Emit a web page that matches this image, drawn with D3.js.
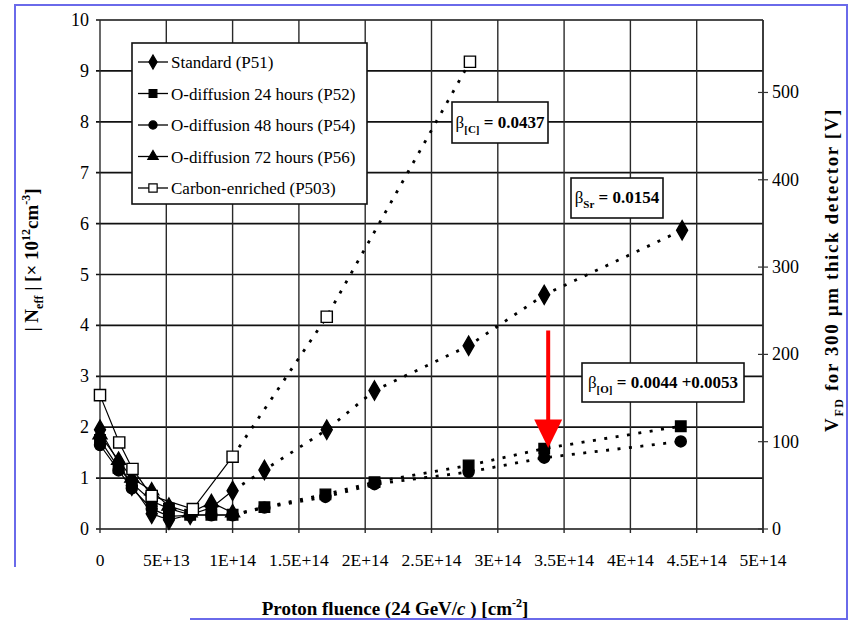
<!DOCTYPE html>
<html>
<head>
<meta charset="utf-8">
<script src="https://cdn.jsdelivr.net/npm/d3@7"></script>
<style>
  body { margin: 0; background: #fff; }
  svg { display: block; font-family: "Liberation Serif", "Times New Roman", serif; }
</style>
</head>
<body>
<svg id="chart"></svg>
<script>
// axis ticks
const xTicks = [0, 5e13, 1e14, 1.5e14, 2e14, 2.5e14, 3e14, 3.5e14, 4e14, 4.5e14, 5e14];
const xTickLabels = ["0", "5E+13", "1E+14", "1.5E+14", "2E+14", "2.5E+14", "3E+14", "3.5E+14", "4E+14", "4.5E+14", "5E+14"];
const yTicks = [0, 1, 2, 3, 4, 5, 6, 7, 8, 9, 10];
const vTicks = [0, 100, 200, 300, 400, 500];
const voltsPerUnit = 58.3; // V_FD for 300 um per 1e12 cm^-3

// series (fluence in cm^-2, |Neff| in 1e12 cm^-3)
const seriesLabels = ["Standard (P51)", "O-diffusion 24 hours (P52)", "O-diffusion 48 hours (P54)",
                      "O-diffusion 72 hours (P56)", "Carbon-enriched (P503)"];
const p51Fluence = [0, 1.4e13, 2.4e13, 3.9e13, 5.2e13, 6.8e13, 8.4e13, 1.0e14, 1.24e14, 1.71e14, 2.07e14, 2.78e14, 3.35e14, 4.39e14];
const p51Neff    = [1.95, 1.3, 0.85, 0.3, 0.18, 0.28, 0.42, 0.75, 1.16, 1.95, 2.72, 3.6, 4.6, 5.87];
const p52Fluence = [0, 1.4e13, 2.4e13, 3.9e13, 5.2e13, 6.8e13, 8.4e13, 1.0e14, 1.24e14, 1.7e14, 2.07e14, 2.78e14, 3.35e14, 4.38e14];
const p52Neff    = [1.75, 1.2, 0.9, 0.55, 0.4, 0.28, 0.28, 0.28, 0.43, 0.68, 0.92, 1.25, 1.58, 2.02];
const p54Fluence = [0, 1.4e13, 2.4e13, 3.9e13, 5.2e13, 6.8e13, 8.4e13, 1.0e14, 1.24e14, 1.7e14, 2.07e14, 2.78e14, 3.35e14, 4.38e14];
const p54Neff    = [1.65, 1.15, 0.8, 0.4, 0.25, 0.27, 0.27, 0.27, 0.42, 0.63, 0.88, 1.12, 1.4, 1.72];
const p56Fluence = [0, 1.4e13, 2.4e13, 3.9e13, 5.2e13, 6.8e13, 8.4e13, 1.0e14];
const p56Neff    = [1.85, 1.35, 1.0, 0.75, 0.45, 0.32, 0.52, 0.32];
const p503Fluence = [0, 1.45e13, 2.45e13, 3.9e13, 7.0e13, 1.0e14, 1.71e14, 2.79e14];
const p503Neff    = [2.63, 1.7, 1.18, 0.65, 0.39, 1.42, 4.17, 9.18];

const fitStart = 1e14; // points from here on are joined by dotted fit lines

const annotations = [
  { sym: "β", sub: "[C]", text: " = 0.0437" },
  { sym: "β", sub: "Sr", text: " = 0.0154" },
  { sym: "β", sub: "[O]", text: " = 0.0044 +0.0053" }
];

const W = 855, H = 621;
const svg = d3.select("#chart").attr("width", W).attr("height", H);

const x = d3.scaleLinear().domain([0, 5e14]).range([100, 763]);
const y = d3.scaleLinear().domain([0, 10]).range([529, 20]);
const yV = d3.scaleLinear().domain([0, 10 * voltsPerUnit]).range([529, 20]);

// grid
const grid = svg.append("g");
grid.selectAll("line.h").data(yTicks).join("line")
    .attr("x1", x(0) - 4).attr("x2", x(5e14))
    .attr("y1", d => y(d)).attr("y2", d => y(d))
    .attr("stroke", "#111").attr("stroke-width", 1.7);
grid.selectAll("line.v").data(xTicks).join("line")
    .attr("x1", d => x(d)).attr("x2", d => x(d))
    .attr("y1", y(10)).attr("y2", y(0) + 4)
    .attr("stroke", "#2a2a2a").attr("stroke-width", 1.4);

// left tick labels
svg.append("g").selectAll("text").data(yTicks).join("text")
    .attr("x", 89).attr("y", d => y(d) + 6)
    .attr("text-anchor", "end").attr("font-size", 18)
    .text(d => d);

// bottom tick labels
svg.append("g").selectAll("text").data(xTicks).join("text")
    .attr("x", d => x(d)).attr("y", 566)
    .attr("text-anchor", "middle").attr("font-size", 17.5)
    .text((d, i) => xTickLabels[i]);

// right axis
const rAxis = svg.append("g").attr("transform", `translate(${x(5e14)},0)`);
rAxis.append("line").attr("y1", y(10)).attr("y2", y(0) + 4)
    .attr("stroke", "#2a2a2a").attr("stroke-width", 1.4);
rAxis.selectAll("line.t").data(vTicks).join("line")
    .attr("x1", -5).attr("x2", 5)
    .attr("y1", d => yV(d)).attr("y2", d => yV(d))
    .attr("stroke", "#333").attr("stroke-width", 1.2);
rAxis.selectAll("text").data(vTicks).join("text")
    .attr("x", 9).attr("y", d => yV(d) + 6)
    .attr("font-size", 18).text(d => d);

// series
const series = [
  { fx: p51Fluence, fy: p51Neff, shape: d3.symbolDiamond, size: 105, fill: "#000" },
  { fx: p52Fluence, fy: p52Neff, shape: d3.symbolSquare, size: 110, fill: "#000" },
  { fx: p54Fluence, fy: p54Neff, shape: d3.symbolCircle, size: 95, fill: "#000" },
  { fx: p56Fluence, fy: p56Neff, shape: d3.symbolTriangle, size: 85, fill: "#000" },
  { fx: p503Fluence, fy: p503Neff, shape: d3.symbolSquare, size: 125, fill: "#fff" }
];

const line = d3.line().x(d => x(d[0])).y(d => y(d[1]));
const lines = svg.append("g").attr("fill", "none").attr("stroke", "#000");
series.forEach(s => {
  const pts = s.fx.map((f, i) => [f, s.fy[i]]);
  const early = pts.filter(p => p[0] <= fitStart);
  const late = pts.filter(p => p[0] >= fitStart);
  lines.append("path").datum(early).attr("d", line).attr("stroke-width", 1.2);
  if (late.length > 1) {
    lines.append("path").datum(late).attr("d", line)
        .attr("stroke-width", 2.8).attr("stroke-dasharray", "3,8.5");
  }
});

const marks = svg.append("g");
series.forEach(s => {
  marks.selectAll(null).data(s.fx).join("path")
      .attr("transform", (f, i) => `translate(${x(f)},${y(s.fy[i])})`)
      .attr("d", d3.symbol(s.shape, s.size))
      .attr("fill", s.fill).attr("stroke", "#000").attr("stroke-width", 1.4);
});

// annotation boxes
const boxes = [
  { x: 452, y: 102, w: 96, h: 41 },
  { x: 571, y: 178, w: 92, h: 40 },
  { x: 582, y: 363, w: 162, h: 39 }
];
annotations.forEach((a, i) => {
  const b = boxes[i];
  const g = svg.append("g");
  g.append("rect").attr("x", b.x).attr("y", b.y).attr("width", b.w).attr("height", b.h)
      .attr("fill", "#fff").attr("stroke", "#111").attr("stroke-width", 1.6);
  const t = g.append("text").attr("x", b.x + b.w / 2).attr("y", b.y + b.h / 2 + 5)
      .attr("text-anchor", "middle").attr("font-size", 17);
  t.append("tspan").text(a.sym);
  t.append("tspan").attr("font-size", 11).attr("dy", 5).attr("font-weight", "bold").text(a.sub);
  t.append("tspan").attr("dy", -5).attr("font-weight", "bold").text(a.text);
});

// red arrow
const arrowX = x(3.38e14);
svg.append("line").attr("x1", arrowX).attr("x2", arrowX)
    .attr("y1", y(3.9)).attr("y2", y(2.1))
    .attr("stroke", "#f00").attr("stroke-width", 4);
svg.append("path")
    .attr("d", `M${arrowX - 14},${y(2.15)} L${arrowX + 14},${y(2.15)} L${arrowX},${y(1.59)} Z`)
    .attr("fill", "#f00");

// legend
const legend = svg.append("g");
legend.append("rect").attr("x", 132).attr("y", 43).attr("width", 235).attr("height", 161)
    .attr("fill", "#fff").attr("stroke", "#111").attr("stroke-width", 1.6);
seriesLabels.forEach((lab, i) => {
  const ly = 62 + i * 31.5;
  legend.append("line").attr("x1", 138).attr("x2", 168).attr("y1", ly).attr("y2", ly)
      .attr("stroke", "#000").attr("stroke-width", 1.3);
  legend.append("path").attr("transform", `translate(153,${ly})`)
      .attr("d", d3.symbol(series[i].shape, series[i].size * 0.55))
      .attr("fill", series[i].fill).attr("stroke", "#000").attr("stroke-width", 1.2);
  legend.append("text").attr("x", 171).attr("y", ly + 6).attr("font-size", 17).text(lab);
});

// axis titles
const xt = svg.append("text").attr("x", 395).attr("y", 615)
    .attr("text-anchor", "middle").attr("font-size", 19).attr("font-weight", "bold");
xt.append("tspan").text("Proton fluence (24 GeV/");
xt.append("tspan").attr("font-style", "italic").text("c");
xt.append("tspan").text(" ) [cm");
xt.append("tspan").attr("font-size", 12).attr("dy", -8).text("-2");
xt.append("tspan").attr("dy", 8).text("]");

const yt = svg.append("text").attr("transform", "translate(38,260) rotate(-90)")
    .attr("text-anchor", "middle").attr("font-size", 19).attr("font-weight", "bold");
yt.append("tspan").text("| N");
yt.append("tspan").attr("font-size", 12).attr("dy", 5).text("eff");
yt.append("tspan").attr("dy", -5).text(" |  [× 10");
yt.append("tspan").attr("font-size", 12).attr("dy", -8).text("12");
yt.append("tspan").attr("dy", 8).text("cm");
yt.append("tspan").attr("font-size", 12).attr("dy", -8).text("-3");
yt.append("tspan").attr("dy", 8).text("]");

const vt = svg.append("text").attr("transform", "translate(838,270) rotate(-90)")
    .attr("text-anchor", "middle").attr("font-size", 19).attr("font-weight", "bold")
    .attr("letter-spacing", 1.6);
vt.append("tspan").text("V");
vt.append("tspan").attr("font-size", 12).attr("dy", 5).text("FD");
vt.append("tspan").attr("dy", -5).text(" for 300 µm thick detector [V]");

// blue frame
svg.append("path")
    .attr("d", "M15,567 L15,5 L847,5 L847,619 L190,619")
    .attr("fill", "none").attr("stroke", "#6a6aea").attr("stroke-width", 2);
</script>
</body>
</html>
